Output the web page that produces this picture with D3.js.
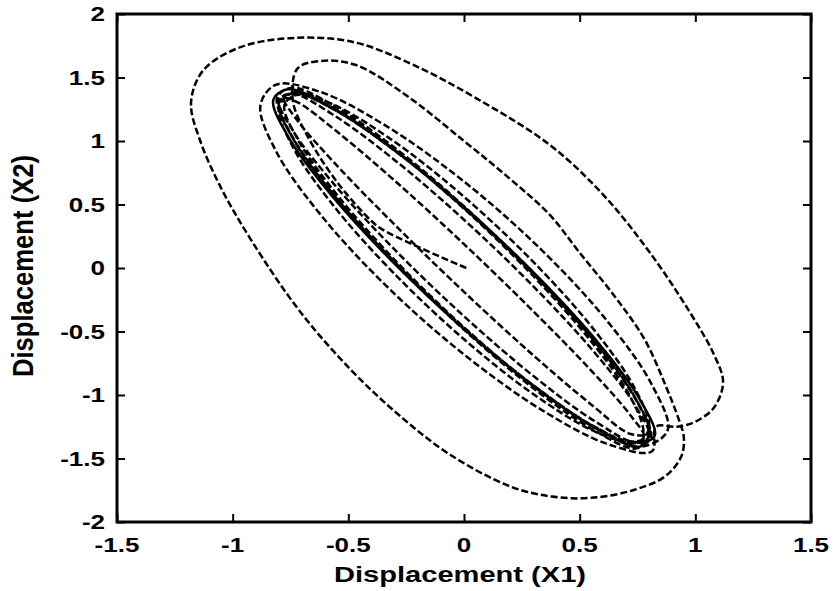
<!DOCTYPE html>
<html><head><meta charset="utf-8">
<script src="https://cdn.jsdelivr.net/npm/d3@7"></script>
<style>html,body{margin:0;padding:0;background:#fff;}svg{display:block;}</style>
</head><body>
<svg id="chart" width="834" height="591"></svg>
<script>
// ---- data (X1, X2 displacement pairs) ----
const xTicks = [-1.5, -1, -0.5, 0, 0.5, 1, 1.5];
const yTicks = [-2, -1.5, -1, -0.5, 0, 0.5, 1, 1.5, 2];
const xLabel = "Displacement (X1)";
const yLabel = "Displacement (X2)";

// initial transient from rest
const startPath = [[0.01,0.0],[-0.35,0.30],[-0.40,0.37],[-0.55,0.68],[-0.68,1.05],[-0.74,1.32],[-0.72,1.57]];
// first swing along the upper side
const firstSwing = [[-0.62,1.63],[-0.47,1.6],[-0.25,1.36],[0.0,1.0],[0.2,0.7],[0.37,0.42],[0.5,0.12],[0.65,-0.22],[0.78,-0.56],[0.87,-0.92],[0.93,-1.2],[0.95,-1.33]];
// large outer loop
const outerLoop = [[0.94,-1.48],[0.87,-1.64],[0.73,-1.75],[0.55,-1.81],[0.38,-1.80],[0.2,-1.72],[-0.06,-1.47],[-0.28,-1.16],[-0.49,-0.8],[-0.71,-0.34],[-0.92,0.22],[-1.05,0.63],[-1.14,1.0],[-1.18,1.3],[-1.13,1.55],[-0.98,1.73],[-0.75,1.81],[-0.48,1.78],[-0.22,1.6],[0.05,1.34],[0.37,0.97],[0.6,0.58],[0.8,0.13],[0.97,-0.33],[1.08,-0.68],[1.12,-0.9],[1.08,-1.1],[1.0,-1.21],[0.92,-1.25],[0.83,-1.25]];
// decaying loop just outside the steady orbit
const decayLoop = [[0.813,-1.443],[0.622,-1.387],[0.337,-1.119],[0,-0.681],[-0.337,-0.139],[-0.622,0.424],[-0.813,0.922],[-0.88,1.28],[-0.813,1.443],[-0.622,1.387],[-0.337,1.119],[0,0.681],[0.337,0.139],[0.622,-0.424],[0.813,-0.922],[0.88,-1.28]];
// steady-state orbit, several passes
const cycleA = [[0.739,-1.379],[0.566,-1.251],[0.306,-0.932],[0,-0.472],[-0.306,0.060],[-0.566,0.583],[-0.739,1.018],[-0.8,1.297],[-0.739,1.379],[-0.566,1.251],[-0.306,0.932],[0,0.472],[0.306,-0.060],[0.566,-0.583],[0.739,-1.018],[0.8,-1.297]];
const cycleB = [[0.761,-1.407],[0.583,-1.276],[0.315,-0.951],[0,-0.481],[-0.315,0.061],[-0.583,0.595],[-0.761,1.038],[-0.824,1.323],[-0.761,1.407],[-0.583,1.276],[-0.315,0.951],[0,0.481],[0.315,-0.061],[0.583,-0.595],[0.761,-1.038],[0.824,-1.323]];
const cycleC = [[0.739,-1.380],[0.566,-1.288],[0.306,-1.001],[0,-0.561],[-0.306,-0.036],[-0.566,0.495],[-0.739,0.950],[-0.8,1.261],[-0.739,1.380],[-0.566,1.288],[-0.306,1.001],[0,0.561],[0.306,0.036],[0.566,-0.495],[0.739,-0.950],[0.8,-1.261]];
const cycleD = [[0.721,-1.307],[0.552,-1.078],[0.298,-0.685],[0,-0.188],[-0.298,0.338],[-0.552,0.812],[-0.721,1.163],[-0.78,1.337],[-0.721,1.307],[-0.552,1.078],[-0.298,0.685],[0,0.188],[0.298,-0.338],[0.552,-0.812],[0.721,-1.163],[0.78,-1.337]];
const cycleE = [[0.717,-1.365],[0.549,-1.238],[0.297,-0.923],[0,-0.467],[-0.297,0.059],[-0.549,0.577],[-0.717,1.008],[-0.776,1.284],[-0.717,1.365],[-0.549,1.238],[-0.297,0.923],[0,0.467],[0.297,-0.059],[0.549,-0.577],[0.717,-1.008],[0.776,-1.284]];
const cycleF = [[0.739,-1.371],[0.566,-1.207],[0.306,-0.859],[0,-0.380],[-0.306,0.156],[-0.566,0.669],[-0.739,1.080],[-0.8,1.326],[-0.739,1.371],[-0.566,1.207],[-0.306,0.859],[0,0.380],[0.306,-0.156],[0.566,-0.669],[0.739,-1.080],[0.8,-1.326]];
const cycleG = [[0.746,-1.420],[0.572,-1.289],[0.309,-0.960],[0,-0.486],[-0.309,0.062],[-0.572,0.600],[-0.746,1.049],[-0.808,1.336],[-0.746,1.420],[-0.572,1.289],[-0.309,0.960],[0,0.486],[0.309,-0.062],[0.572,-0.600],[0.746,-1.049],[0.808,-1.336],[0.746,-1.420]];

const trajectory = [].concat(startPath, firstSwing, outerLoop, decayLoop, cycleB, cycleC, cycleA, cycleD, cycleE, cycleB, cycleF, cycleA, cycleG);

// ---- layout ----
const svg = d3.select("#chart");
const L = 117, R = 811, T = 14, B = 522;
const x = d3.scaleLinear().domain([-1.5, 1.5]).range([L, R]);
const y = d3.scaleLinear().domain([-2, 2]).range([B, T]);
const font = "'Liberation Sans', Arial, Helvetica, sans-serif";
const hs = 1.3; // horizontal stretch of the original raster text

svg.append("clipPath").attr("id","clip").append("rect")
  .attr("x", L).attr("y", T).attr("width", R - L).attr("height", B - T);

// trajectory
const line = d3.line().x(d => x(d[0])).y(d => y(d[1])).curve(d3.curveCatmullRom.alpha(0.5));
svg.append("path").datum(trajectory)
  .attr("clip-path", "url(#clip)")
  .attr("d", line)
  .attr("fill", "none").attr("stroke", "#000")
  .attr("stroke-width", 2.5)
  .attr("stroke-dasharray", "7,3");

// axes with inward ticks (all four sides)
const tl = 8;
const axB = d3.axisBottom(x).tickValues(xTicks).tickSize(-tl).tickFormat("");
const axT = d3.axisTop(x).tickValues(xTicks).tickSize(-tl).tickFormat("");
const axL = d3.axisLeft(y).tickValues(yTicks).tickSize(-tl).tickFormat("");
const axR = d3.axisRight(y).tickValues(yTicks).tickSize(-tl).tickFormat("");
[[axB, `translate(0,${B})`], [axT, `translate(0,${T})`], [axL, `translate(${L},0)`], [axR, `translate(${R},0)`]].forEach(([ax, tr]) => {
  const g = svg.append("g").attr("transform", tr).call(ax);
  g.select(".domain").remove();
  g.selectAll(".tick line").attr("stroke", "#000").attr("stroke-width", 2);
});

// frame
svg.append("rect").attr("x", L).attr("y", T).attr("width", R - L).attr("height", B - T)
  .attr("fill", "none").attr("stroke", "#000").attr("stroke-width", 3);

// tick labels
xTicks.forEach(v => {
  svg.append("g").attr("transform", `translate(${x(v)},552) scale(${hs},1)`)
    .append("text").attr("text-anchor", "middle")
    .attr("font-family", font).attr("font-weight", "bold").attr("font-size", 20)
    .text(String(v));
});
yTicks.forEach(v => {
  svg.append("g").attr("transform", `translate(105,${y(v) + 7}) scale(${hs},1)`)
    .append("text").attr("text-anchor", "end")
    .attr("font-family", font).attr("font-weight", "bold").attr("font-size", 20)
    .text(String(v));
});

// axis titles
svg.append("text").attr("x", 460).attr("y", 582).attr("text-anchor", "middle")
  .attr("font-family", font).attr("font-weight", "bold").attr("font-size", 22)
  .attr("textLength", 252).attr("lengthAdjust", "spacingAndGlyphs")
  .text(xLabel);
svg.append("g").attr("transform", `translate(33,266) scale(${hs},1) rotate(-90)`)
  .append("text").attr("x", 0).attr("y", 0).attr("text-anchor", "middle")
  .attr("font-family", font).attr("font-weight", "bold").attr("font-size", 22)
  .attr("textLength", 222).attr("lengthAdjust", "spacingAndGlyphs")
  .text(yLabel);
</script>
</body></html>
